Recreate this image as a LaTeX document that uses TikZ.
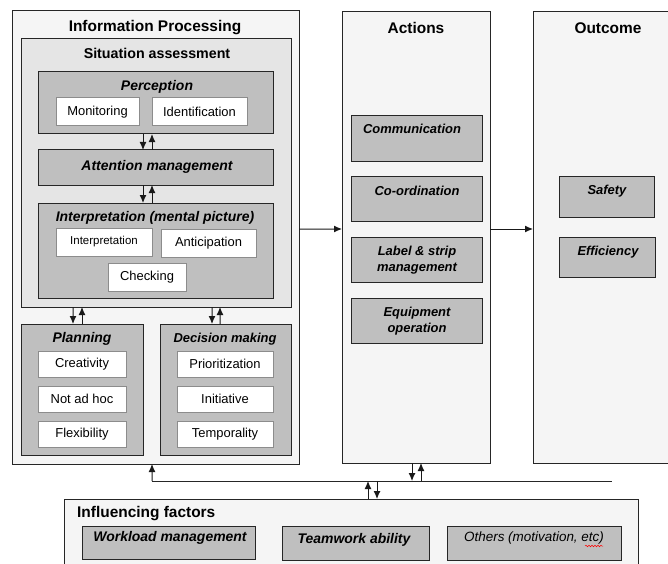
\documentclass[tikz,border=0pt]{standalone}
\usepackage{fontspec}
\setmainfont{Liberation Sans}
\usetikzlibrary{arrows.meta,decorations.pathmorphing}
\tikzset{
  box/.style={draw=black!85, line width=1bp, anchor=north west, inner sep=0pt, outer sep=0pt},
  panel/.style={box, fill=black!4},
  sitpanel/.style={box, fill=black!10},
  greybox/.style={box, fill=black!25},
  whitebox/.style={box, draw=black!45, fill=white, font=\fontsize{13}{15}\selectfont},
  bigtitle/.style={font=\bfseries\fontsize{15.5}{18}\selectfont, inner sep=0pt},
  subtitle/.style={font=\bfseries\itshape\fontsize{14}{16}\selectfont, inner sep=0pt},
  itemtitle/.style={font=\bfseries\itshape\fontsize{13}{16}\selectfont, inner sep=0pt, align=center},
  arr/.style={-{Latex[length=8bp,width=7bp]}, line width=1bp, draw=black!90},
  bus/.style={line width=1bp, draw=black!85}
}
\begin{document}
\begin{tikzpicture}[x=1bp,y=-1bp]
  \useasboundingbox (0,0) rectangle (668,564);
  \clip (0,0) rectangle (668,564);
  \fill[white] (0,0) rectangle (668,564);

  % information processing
  \node[panel, minimum width=287bp, minimum height=453bp] (info) at (12,11) {};
  \node[bigtitle] (infot) at (155,28) {Information Processing};
  \node[sitpanel, minimum width=270bp, minimum height=268bp] (sit) at (21,39) {};
  \node[font=\bfseries\fontsize{14.3}{17}\selectfont, inner sep=0pt] (sitt) at (157,53) {Situation assessment};

  \node[greybox, minimum width=235bp, minimum height=62bp] (perc) at (38,72) {};
  \node[subtitle] (perct) at (157,87) {Perception};
  \node[whitebox, minimum width=83bp, minimum height=28bp] (mon) at (56,98) {Monitoring};
  \node[whitebox, minimum width=95bp, minimum height=28bp] (ident) at (152,98) {Identification};

  \node[greybox, minimum width=235bp, minimum height=35bp] (attn) at (38,150) {};
  \node[subtitle] (attnt) at (157,167) {Attention management};

  \node[greybox, minimum width=235bp, minimum height=95bp] (interp) at (38,203) {};
  \node[subtitle] (interpt) at (155,218) {Interpretation (mental picture)};
  \node[whitebox, minimum width=96bp, minimum height=28bp, font=\fontsize{11.5}{14}\selectfont] (intp) at (56,228) {Interpretation};
  \node[whitebox, minimum width=95bp, minimum height=28bp] (antic) at (161,229) {Anticipation};
  \node[whitebox, minimum width=78bp, minimum height=28bp] (check) at (108,263) {Checking};

  \node[greybox, minimum width=122bp, minimum height=131bp] (plan) at (21,324) {};
  \node[subtitle] (plant) at (82,339) {Planning};
  \node[whitebox, minimum width=88bp, minimum height=26bp] (creat) at (38,351) {Creativity};
  \node[whitebox, minimum width=88bp, minimum height=26bp] (notad) at (38,386) {Not ad hoc};
  \node[whitebox, minimum width=88bp, minimum height=26bp] (flex) at (38,421) {Flexibility};

  \node[greybox, minimum width=131bp, minimum height=131bp] (dec) at (160,324) {};
  \node[subtitle, font=\bfseries\itshape\fontsize{13}{16}\selectfont] (dect) at (225,339) {Decision making};
  \node[whitebox, minimum width=96bp, minimum height=26bp] (prio) at (177,351) {Prioritization};
  \node[whitebox, minimum width=96bp, minimum height=26bp] (init) at (177,386) {Initiative};
  \node[whitebox, minimum width=96bp, minimum height=26bp] (temp) at (177,421) {Temporality};

  % actions
  \node[panel, minimum width=148bp, minimum height=451bp] (actions) at (342,12) {};
  \node[bigtitle] (actt) at (416,28) {Actions};
  \node[greybox, minimum width=131bp, minimum height=45bp] (comm) at (351,116) {};
  \node[itemtitle] (commt) at (412,129) {Communication};
  \node[greybox, minimum width=131bp, minimum height=44bp] (coord) at (351,177) {};
  \node[itemtitle] (coordt) at (417,191) {Co-ordination};
  \node[greybox, minimum width=131bp, minimum height=45bp] (label) at (351,237) {};
  \node[itemtitle] (labelt) at (417,260) {Label \& strip\\management};
  \node[greybox, minimum width=131bp, minimum height=45bp] (equip) at (351,298) {};
  \node[itemtitle] (equipt) at (417,321) {Equipment\\operation};

  % outcome
  \node[panel, minimum width=170bp, minimum height=451bp] (outcome) at (533,12) {};
  \node[bigtitle] (outt) at (608,28) {Outcome};
  \node[greybox, minimum width=95bp, minimum height=40bp] (safety) at (559,177) {};
  \node[itemtitle] (safet) at (607,191) {Safety};
  \node[greybox, minimum width=96bp, minimum height=40bp] (effic) at (559,237) {};
  \node[itemtitle] (efft) at (608,252) {Efficiency};

  % influencing factors
  \node[panel, minimum width=574bp, minimum height=90bp] (infl) at (64,499) {};
  \node[bigtitle, anchor=west] (inflt) at (77,514) {Influencing factors};
  \node[greybox, minimum width=173bp, minimum height=33bp] (work) at (82,526) {};
  \node[subtitle] (workt) at (170,538) {Workload management};
  \node[greybox, minimum width=147bp, minimum height=34bp] (team) at (282,526) {};
  \node[subtitle] (teamt) at (354,540) {Teamwork ability};
  \node[greybox, minimum width=174bp, minimum height=34bp] (others) at (447,526) {};
  \node[font=\itshape\fontsize{13.5}{16}\selectfont, inner sep=0pt] (otherst) at (534,538) {Others (motivation, etc)};
  \draw[red, line width=0.5bp, decorate, decoration={snake, amplitude=0.8bp, segment length=3bp}] (585,546) -- (603,546);

  % arrows
  \draw[arr] ([xshift=-12.5bp]perc.south) -- ([xshift=-12.5bp]attn.north);
  \draw[arr] ([xshift=-3.5bp]attn.north) -- ([xshift=-3.5bp]perc.south);
  \draw[arr] ([xshift=-12.5bp]attn.south) -- ([xshift=-12.5bp]interp.north);
  \draw[arr] ([xshift=-3.5bp]interp.north) -- ([xshift=-3.5bp]attn.south);
  \draw[arr] ([xshift=-83bp]sit.south) -- ([xshift=-9bp]plan.north);
  \draw[arr] (plan.north) -- ([xshift=-74bp]sit.south);
  \draw[arr] ([xshift=56bp]sit.south) -- ([xshift=-13.5bp]dec.north);
  \draw[arr] ([xshift=-5.5bp]dec.north) -- ([xshift=64bp]sit.south);
  \draw[arr] ([yshift=8.5bp]info.east) -- ([yshift=8.5bp]actions.west);
  \draw[arr] ([yshift=8.5bp]actions.east) -- ([yshift=8.5bp]outcome.west);

  \coordinate (busl) at (152,481);
  \coordinate (busr) at (612,481);
  \draw[bus] (busl) -- (busr);
  \draw[arr] (busl) -- ([xshift=-3.5bp]info.south);
  \draw[arr] ([xshift=-4bp]actions.south) -- ++(0,18);
  \draw[arr] ([xshift=5bp]actions.south) ++(0,18) -- ([xshift=5bp]actions.south);
  \draw[arr] ([xshift=17bp]infl.north) -- ++(0,-18);
  \draw[arr] ([xshift=26bp]infl.north) ++(0,-18) -- ([xshift=26bp]infl.north);
\end{tikzpicture}
\end{document}
